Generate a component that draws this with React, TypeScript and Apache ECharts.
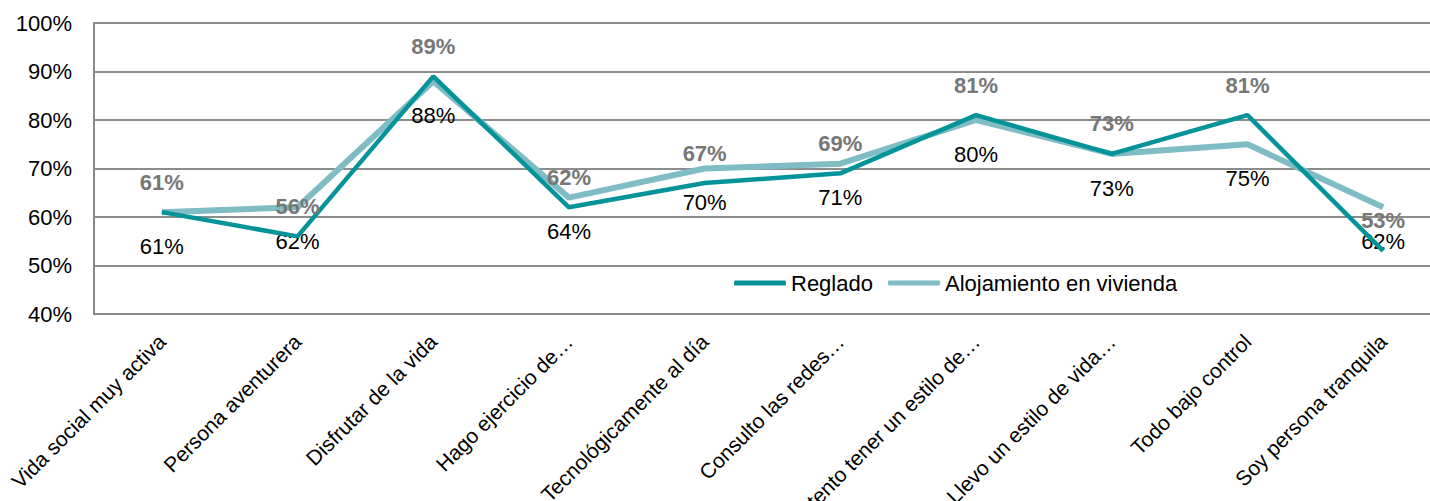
import React, { useEffect, useRef } from "react";
import * as echarts from "echarts";

const categories = [
  "Vida social muy activa",
  "Persona aventurera",
  "Disfrutar de la vida",
  "Hago ejercicio de…",
  "Tecnológicamente al día",
  "Consulto las redes…",
  "Intento tener un estilo de…",
  "Llevo un estilo de vida…",
  "Todo bajo control",
  "Soy persona tranquila",
];
const reglado = [61, 56, 89, 62, 67, 69, 81, 73, 81, 53];
const alojamiento = [61, 62, 88, 64, 70, 71, 80, 73, 75, 62];
const yTicks = { min: 40, max: 100, interval: 10 };

const FONT = "'Liberation Sans', Arial, sans-serif";

export default function App() {
  const ref = useRef<HTMLDivElement>(null);
  useEffect(() => {
    if (!ref.current) return;
    const chart = echarts.init(ref.current, null, { renderer: "svg" });
    chart.setOption({
      animation: false,
      textStyle: { fontFamily: FONT },
      grid: {
        left: 94,
        top: 23,
        width: 1357,
        height: 291,
        containLabel: false,
        outerBoundsMode: "none",
      },
      legend: {
        data: ["Reglado", "Alojamiento en vivienda"],
        left: 734,
        top: 272,
        padding: 0,
        itemWidth: 52,
        itemHeight: 5,
        itemGap: 15,
        icon: "roundRect",
        textStyle: { fontSize: 22, color: "#000", fontFamily: FONT },
      },
      xAxis: {
        type: "category",
        data: categories,
        boundaryGap: true,
        axisLine: { show: true, lineStyle: { color: "#888", width: 2 } },
        axisTick: { show: false },
        axisLabel: {
          rotate: 45,
          interval: 0,
          margin: 24,
          fontSize: 21,
          color: "#000",
          fontFamily: FONT,
        },
      },
      yAxis: {
        type: "value",
        min: yTicks.min,
        max: yTicks.max,
        interval: yTicks.interval,
        axisLine: { show: true, lineStyle: { color: "#888", width: 2 } },
        axisTick: { show: false },
        splitLine: { lineStyle: { color: "#8c8c8c", width: 2 } },
        axisLabel: {
          formatter: "{value}%",
          fontSize: 22,
          color: "#000",
          margin: 22,
          fontFamily: FONT,
        },
      },
      series: [
        {
          name: "Alojamiento en vivienda",
          type: "line",
          data: alojamiento,
          symbol: "circle",
          symbolSize: 0.1,
          showSymbol: true,
          lineStyle: { color: "#7fbcc4", width: 6 },
          itemStyle: { color: "#7fbcc4" },
          label: {
            show: true,
            position: "bottom",
            distance: 23,
            formatter: "{c}%",
            fontSize: 22,
            color: "#000",
            fontFamily: FONT,
          },
          labelLayout: { hideOverlap: false },
          z: 2,
        },
        {
          name: "Reglado",
          type: "line",
          data: reglado,
          symbol: "circle",
          symbolSize: 0.1,
          showSymbol: true,
          lineStyle: { color: "#05939a", width: 4.5 },
          itemStyle: { color: "#05939a" },
          label: {
            show: true,
            position: "top",
            distance: 19,
            formatter: "{c}%",
            fontSize: 22,
            fontWeight: "bold",
            color: "#777777",
            fontFamily: FONT,
          },
          labelLayout: { hideOverlap: false },
          z: 3,
        },
      ],
    });
    return () => chart.dispose();
  }, []);
  return (
    <div
      style={{
        position: "absolute",
        left: 0,
        top: 0,
        width: 1430,
        height: 501,
        overflow: "hidden",
        background: "#fff",
      }}
    >
      <div ref={ref} style={{ width: 1460, height: 501 }} />
    </div>
  );
}
